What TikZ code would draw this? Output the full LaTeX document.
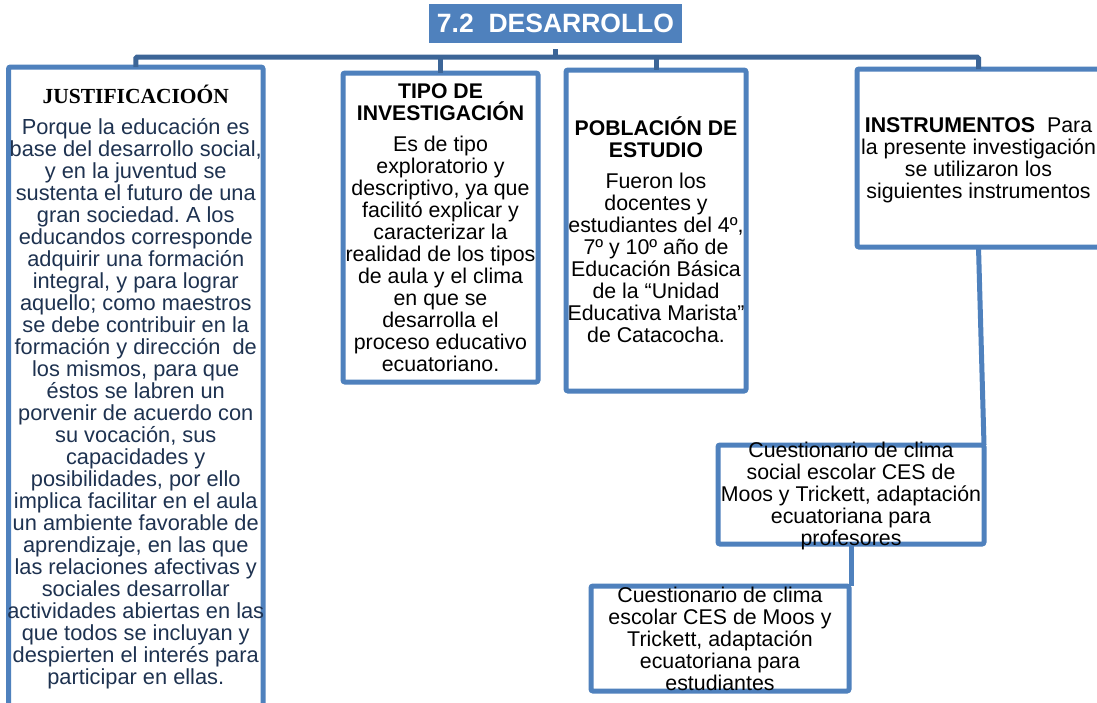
\documentclass[tikz,border=0pt]{standalone}
\usepackage{fontspec}
\setmainfont{Liberation Sans}
\newfontfamily\serifb{Liberation Serif}
\definecolor{boxblue}{HTML}{4F81BD}
\definecolor{busblue}{HTML}{3C6597}
\definecolor{navy}{RGB}{30,50,80}
\tikzset{
  box/.style={draw=boxblue, line width=5pt, rounded corners=2pt, outer sep=0pt, inner sep=0pt, fill=white},
  bus/.style={draw=busblue, line width=5pt, rounded corners=1.5pt},
  lconn/.style={draw=boxblue, line width=5pt},
  txt/.style={align=center, inner sep=0pt, font=\frenchspacing\fontsize{21.35}{22}\selectfont},
  jtxt/.style={align=center, inner sep=0pt, text=navy, font=\frenchspacing\fontsize{21.8}{22}\selectfont},
  titlebox/.style={fill=boxblue, inner sep=0pt, text=white, font=\bfseries\fontsize{26.5}{28}\selectfont}
}
\newcommand{\hd}[1]{{\bfseries\fontsize{21.2}{22}\selectfont #1}}
\begin{document}
\begin{tikzpicture}[x=1pt,y=-1pt]
\useasboundingbox (0,0) rectangle (1097,702);
\fill[white] (0,0) rectangle (1097,702);

% title
\node[titlebox, minimum width=253pt, minimum height=39pt] (title) at (555.5,23.5) {7.2\ \ DESARROLLO};

% boxes
\node[box, minimum width=254.5pt, minimum height=639pt] (just) at (135.75,386.5) {};
\node[box, minimum width=195pt, minimum height=309pt] (tipo) at (440.5,227.5) {};
\node[box, minimum width=180pt, minimum height=321pt] (pob) at (656,230.5) {};
\node[box, minimum width=243pt, minimum height=178pt] (instr) at (978.5,158) {};
\node[box, minimum width=266pt, minimum height=99pt] (c1) at (851,494.5) {};
\node[box, minimum width=258pt, minimum height=105pt] (c2) at (720,638.5) {};

% bus
\coordinate (busy) at (555.5,57);
\draw[bus] ([yshift=-6pt]title.south) -- (title.south |- busy);
\draw[bus] (just.north) -- (just.north |- busy) -- (instr.north |- busy) -- (instr.north);
\draw[bus] (tipo.north |- busy) -- (tipo.north);
\draw[bus] (pob.north |- busy) -- (pob.north);

% lower connectors
\draw[lconn] (instr.south) -- (c1.north east);
\draw[lconn] (c1.south) -- (c1.south |- c2.north);

% texts
\node[jtxt] (justt) at (135.75,387) {{\serifb\bfseries\color{black}\fontsize{21.5}{22}\selectfont JUSTIFICACIOÓN}\\[9pt]
Porque la educación es\\
base del desarrollo social,\\
y en la juventud se\\
sustenta el futuro de una\\
gran sociedad. A los\\
educandos corresponde\\
adquirir una formación\\
integral, y para lograr\\
aquello; como maestros\\
se debe contribuir en la\\
formación y dirección\ \ de\\
los mismos, para que\\
éstos se labren un\\
porvenir de acuerdo con\\
su vocación, sus\\
capacidades y\\
posibilidades, por ello\\
implica facilitar en el aula\\
un ambiente favorable de\\
aprendizaje, en las que\\
las relaciones afectivas y\\
sociales desarrollar\\
actividades abiertas en las\\
que todos se incluyan y\\
despierten el interés para\\
participar en ellas.};

\node[txt] (tipot) at (440.5,228) {\hd{TIPO DE}\\
\hd{INVESTIGACIÓN}\\[9pt]
Es de tipo\\
exploratorio y\\
descriptivo, ya que\\
facilitó explicar y\\
caracterizar la\\
realidad de los tipos\\
de aula y el clima\\
en que se\\
desarrolla el\\
proceso educativo\\
ecuatoriano.};

\node[txt] (pobt) at (656,230) {\hd{POBLACIÓN DE}\\
\hd{ESTUDIO}\\[9pt]
Fueron los\\
docentes y\\
estudiantes del 4º,\\
7º y 10º año de\\
Educación Básica\\
de la “Unidad\\
Educativa Marista”\\
de Catacocha.};

\node[txt] (instrt) at (978.5,160) {{\bfseries INSTRUMENTOS}\ \ Para\\
la presente investigación\\
se utilizaron los\\
siguientes instrumentos};

\node[txt] (c1t) at (851,496) {Cuestionario de clima\\
social escolar CES de\\
Moos y Trickett, adaptación\\
ecuatoriana para\\
profesores};

\node[txt] (c2t) at (720,638.5) {Cuestionario de clima\\
escolar CES de Moos y\\
Trickett, adaptación\\
ecuatoriana para\\
estudiantes};
\end{tikzpicture}
\end{document}
